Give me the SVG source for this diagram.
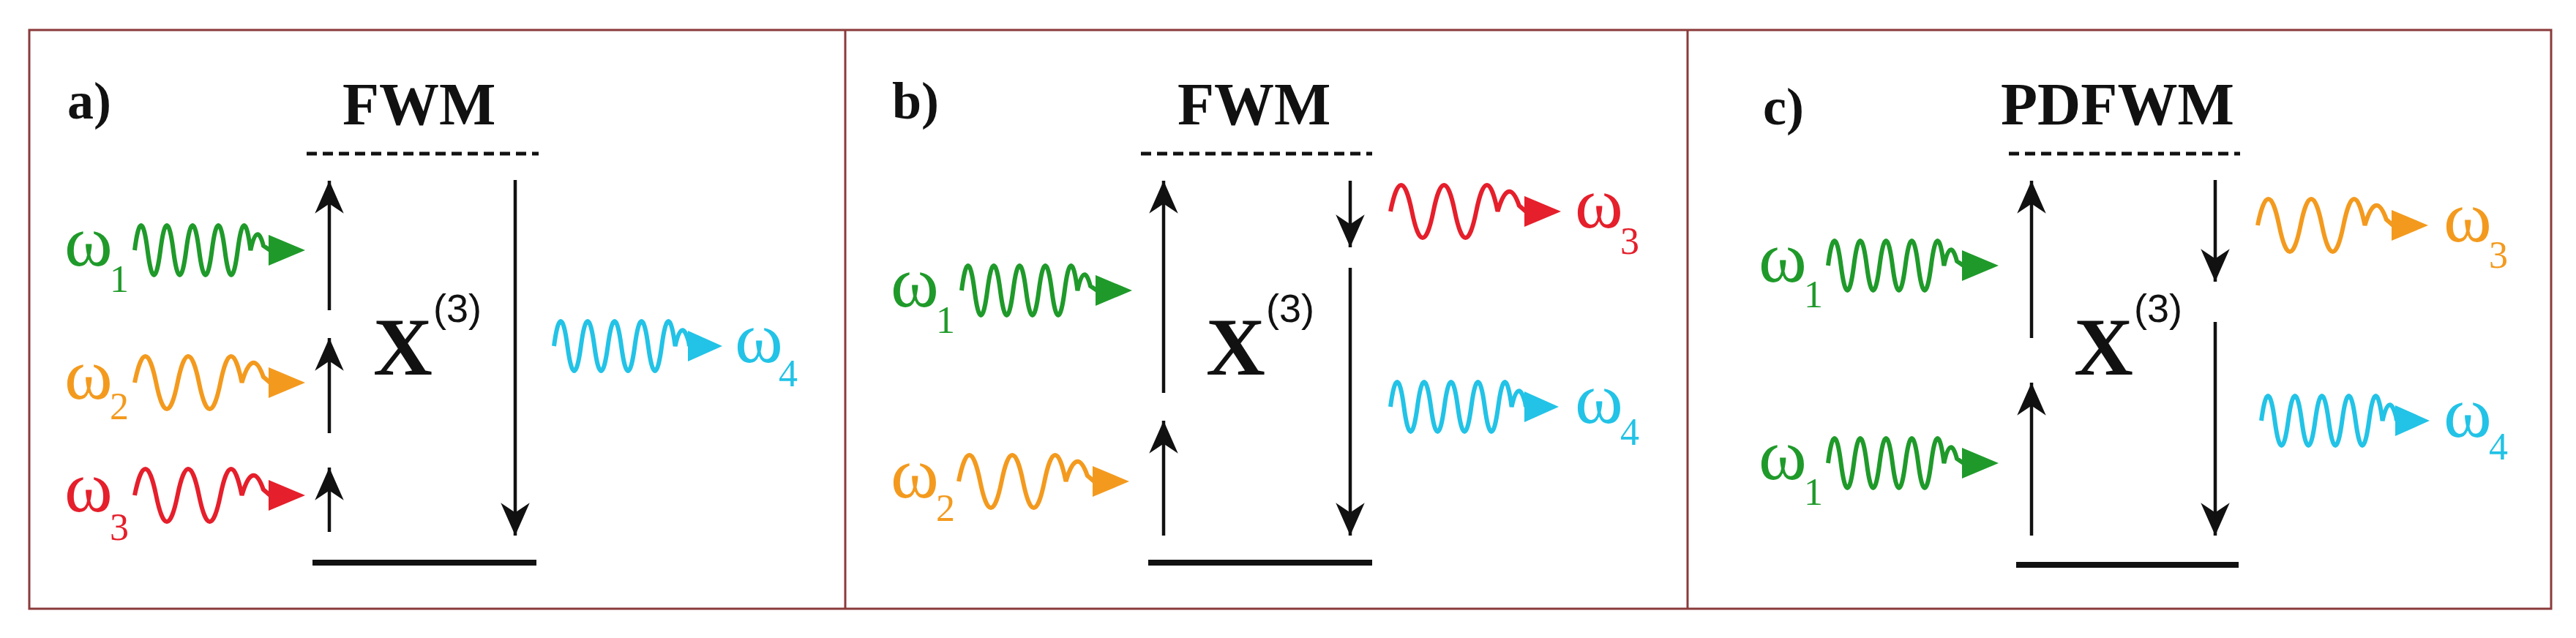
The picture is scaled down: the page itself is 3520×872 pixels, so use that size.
<svg xmlns="http://www.w3.org/2000/svg" xmlns:xlink="http://www.w3.org/1999/xlink" width="3520" height="872" viewBox="0 0 3520 872">
<style>
.frame{fill:none;stroke:#8b3a3a;stroke-width:3}
.lbl{font-family:"Liberation Serif",serif;font-weight:bold;font-size:72px;fill:#111}
.ttl{font-family:"Liberation Serif",serif;font-weight:bold;font-size:82px;fill:#111}
.dash{stroke:#111;stroke-width:5;stroke-dasharray:14 8}
.gnd{stroke:#111;stroke-width:8}
.tr{stroke:#111;stroke-width:4.5;marker-end:url(#ah)}
.chi{font-family:"Liberation Serif",serif;font-weight:bold;font-size:112px;fill:#111}
.sup{font-family:"Liberation Sans",sans-serif;font-size:54px;fill:#111}
.om{font-family:"Liberation Serif",serif;font-size:100px}
.sb{font-family:"Liberation Serif",serif;font-size:52px}
.w{fill:none;stroke-width:6}
.g{fill:#1f9a2a;stroke:#1f9a2a}
.o{fill:#f39a1e;stroke:#f39a1e}
.r{fill:#e51f2b;stroke:#e51f2b}
.c{fill:#22c3e6;stroke:#22c3e6}
text.g,text.o,text.r,text.c{stroke:none}
</style>
<defs>
<marker id="ah" markerUnits="userSpaceOnUse" markerWidth="50" markerHeight="50" viewBox="-36 -18 38 36" refX="0" refY="0" orient="auto">
<path d="M0 0 L-34 -15 L-24 0 L-34 15 Z" fill="#111"/>
</marker>
<g id="wg"><path class="w" style="fill:none" d="M0 0 q8.8 -68 17.6 0 t17.6 0 t17.6 0 t17.6 0 t17.6 0 t17.6 0 t17.6 0 t17.6 0 t17.6 0 q8.8 -40 17.6 -6 L185 0"/><path d="M183 -21 L233 0 L183 21 Z" style="stroke:none"/></g>
<g id="wo"><path class="w" style="fill:none" d="M0 0 q14.6 -72 29.3 0 t29.3 0 t29.3 0 t29.3 0 t29.3 0 q14.6 -50 29.3 -8 L185 0"/><path d="M183 -21 L233 0 L183 21 Z" style="stroke:none"/></g>
<g id="wc"><path class="w" style="fill:none" d="M0 0 q9.2 -68 18.4 0 t18.4 0 t18.4 0 t18.4 0 t18.4 0 t18.4 0 t18.4 0 t18.4 0 t18.4 0 q9.2 -40 18.4 -6 L185 0"/><path d="M183 -21 L230 0 L183 21 Z" style="stroke:none"/></g>
</defs>
<rect x="0" y="0" width="3520" height="872" fill="#fff"/>
<g id="frames">
<rect class="frame" x="40" y="41" width="3446" height="791"/>
<line class="frame" x1="1155" y1="41" x2="1155" y2="832"/>
<line class="frame" x1="2306" y1="41" x2="2306" y2="832"/>
</g>
<g id="panel-a">
<text class="lbl" x="92" y="162">a)</text>
<text class="ttl" x="468" y="170">FWM</text>
<line class="dash" x1="419" y1="210" x2="736" y2="210"/>
<line class="gnd" x1="427" y1="769" x2="733" y2="769"/>
<text class="chi" x="510" y="512">X</text><text class="sup" x="592" y="440">(3)</text>
<text class="om g" x="88" y="363">ω</text><text class="sb g" x="150" y="399">1</text>
<use xlink:href="#wg" class="g" transform="translate(184,342)"/>
<text class="om o" x="88" y="545">ω</text><text class="sb o" x="150" y="573">2</text>
<use xlink:href="#wo" class="o" transform="translate(184,523)"/>
<text class="om r" x="88" y="699">ω</text><text class="sb r" x="150" y="738">3</text>
<use xlink:href="#wo" class="r" transform="translate(184,677)"/>
<use xlink:href="#wc" class="c" transform="translate(757,473)"/>
<text class="om c" x="1004" y="495">ω</text><text class="sb c" x="1064" y="528">4</text>
</g>
<g id="panel-b">
<text class="lbl" x="1219" y="162">b)</text>
<text class="ttl" x="1609" y="170">FWM</text>
<line class="dash" x1="1559" y1="210" x2="1875" y2="210"/>
<line class="gnd" x1="1569" y1="769" x2="1875" y2="769"/>
<text class="chi" x="1648" y="512">X</text><text class="sup" x="1730" y="440">(3)</text>
<text class="om g" x="1217" y="419">ω</text><text class="sb g" x="1279" y="455">1</text>
<use xlink:href="#wg" class="g" transform="translate(1314,397)"/>
<text class="om o" x="1217" y="680">ω</text><text class="sb o" x="1279" y="712">2</text>
<use xlink:href="#wo" class="o" transform="translate(1310,658)"/>
<use xlink:href="#wo" class="r" transform="translate(1900,289)"/>
<text class="om r" x="2152" y="311">ω</text><text class="sb r" x="2214" y="347">3</text>
<use xlink:href="#wc" class="c" transform="translate(1900,556)"/>
<text class="om c" x="2152" y="578">ω</text><text class="sb c" x="2214" y="608">4</text>
</g>
<g id="panel-c">
<text class="lbl" x="2409" y="170">c)</text>
<text class="ttl" x="2734" y="170">PDFWM</text>
<line class="dash" x1="2745" y1="210" x2="3061" y2="210"/>
<line class="gnd" x1="2755" y1="772" x2="3059" y2="772"/>
<text class="chi" x="2834" y="512">X</text><text class="sup" x="2916" y="440">(3)</text>
<text class="om g" x="2403" y="385">ω</text><text class="sb g" x="2465" y="420">1</text>
<use xlink:href="#wg" class="g" transform="translate(2498,363)"/>
<text class="om g" x="2403" y="655">ω</text><text class="sb g" x="2465" y="690">1</text>
<use xlink:href="#wg" class="g" transform="translate(2498,633)"/>
<use xlink:href="#wo" class="o" transform="translate(3085,308)"/>
<text class="om o" x="3339" y="330">ω</text><text class="sb o" x="3401" y="366">3</text>
<use xlink:href="#wc" class="c" transform="translate(3090,575)"/>
<text class="om c" x="3339" y="597">ω</text><text class="sb c" x="3401" y="628">4</text>
</g>
<g id="connectors">
<line class="tr" x1="450" y1="424" x2="450" y2="247"/>
<line class="tr" x1="450" y1="592" x2="450" y2="462"/>
<line class="tr" x1="450" y1="727" x2="450" y2="639"/>
<line class="tr" x1="704" y1="246" x2="704" y2="732"/>
<line class="tr" x1="1590" y1="537" x2="1590" y2="247"/>
<line class="tr" x1="1590" y1="732" x2="1590" y2="575"/>
<line class="tr" x1="1845" y1="247" x2="1845" y2="338"/>
<line class="tr" x1="1845" y1="366" x2="1845" y2="732"/>
<line class="tr" x1="2776" y1="462" x2="2776" y2="247"/>
<line class="tr" x1="2776" y1="732" x2="2776" y2="523"/>
<line class="tr" x1="3027" y1="246" x2="3027" y2="385"/>
<line class="tr" x1="3027" y1="440" x2="3027" y2="732"/>
</g>
</svg>
